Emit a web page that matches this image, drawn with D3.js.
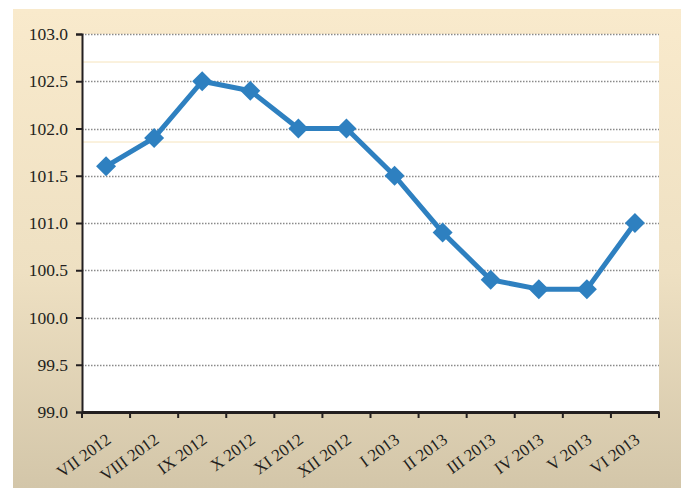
<!DOCTYPE html>
<html><head><meta charset="utf-8">
<script src="https://cdn.jsdelivr.net/npm/d3@7"></script>
<style>body{margin:0;background:#fff}svg{display:block}</style>
</head><body>
<svg id="c" width="681" height="488"></svg>
<script>
const categories = ["VII 2012","VIII 2012","IX 2012","X 2012","XI 2012","XII 2012","I 2013","II 2013","III 2013","IV 2013","V 2013","VI 2013"];
const values = [101.6,101.9,102.5,102.4,102.0,102.0,101.5,100.9,100.4,100.3,100.3,101.0];
const yTicks = [99.0,99.5,100.0,100.5,101.0,101.5,102.0,102.5,103.0];

const svg = d3.select("#c");
const W = 681, H = 488;
const m = {left:82, right:659, top:34, bottom:412};
const serif = "'Liberation Serif', 'Times New Roman', serif";

const defs = svg.append("defs");
const g = defs.append("linearGradient").attr("id","bg").attr("x1",0).attr("y1",0).attr("x2",0).attr("y2",1);
g.append("stop").attr("offset","0%").attr("stop-color","#f9eacc");
g.append("stop").attr("offset","55%").attr("stop-color","#eee0c2");
g.append("stop").attr("offset","100%").attr("stop-color","#d3c6a9");

svg.append("rect").attr("x",13).attr("y",9).attr("width",W-13).attr("height",H-9).attr("fill","url(#bg)");

// clipped red header remnants (title above is cut off in the reference)
const clip = defs.append("clipPath").attr("id","top");
clip.append("rect").attr("x",0).attr("y",0).attr("width",W).attr("height",9);
const hdr = svg.append("g").attr("clip-path","url(#top)");
hdr.append("text").attr("x",66).attr("y",-3).attr("fill","#c8102e").attr("font-family","Liberation Sans").attr("font-style","italic").attr("font-size",16).text("p");
hdr.append("text").attr("x",178).attr("y",-3).attr("fill","#c8102e").attr("font-family","Liberation Sans").attr("font-style","italic").attr("font-size",16).text("y");

svg.append("rect").attr("x",m.left).attr("y",m.top).attr("width",m.right-m.left).attr("height",m.bottom-m.top).attr("fill","#fff");

const x = d3.scaleBand().domain(categories).range([m.left,m.right]);
const y = d3.scaleLinear().domain([99,103]).range([m.bottom,m.top]);

// faint scan lines
[62,142].forEach(py=>{
  svg.append("line").attr("x1",m.left).attr("x2",m.right).attr("y1",py).attr("y2",py).attr("stroke","#f6e4bc").attr("stroke-width",1);
});

// gridlines
svg.append("g").selectAll("line").data(yTicks.filter(d=>d>99)).join("line")
  .attr("x1",m.left).attr("x2",m.right)
  .attr("y1",d=>Math.round(y(d))+0.5).attr("y2",d=>Math.round(y(d))+0.5)
  .attr("stroke","#8a8a8a").attr("stroke-width",1.3).attr("stroke-dasharray","1.5,1.5");

// y axis
const ya = svg.append("g").attr("transform",`translate(${m.left},0)`)
  .call(d3.axisLeft(y).tickValues(yTicks).tickFormat(d3.format(".1f")).tickSize(6).tickPadding(8));
ya.select(".domain").attr("stroke","#231f20").attr("stroke-width",2);
ya.selectAll(".tick line").attr("stroke","#231f20").attr("stroke-width",2);
ya.selectAll("text").style("font-family",serif).style("font-size","17.5px").attr("fill","#231f20");

// x axis
const xa = svg.append("g").attr("transform",`translate(0,${m.bottom})`)
  .call(d3.axisBottom(x).tickSize(0).tickPadding(0));
xa.select(".domain").attr("stroke","#231f20").attr("stroke-width",3);
xa.selectAll(".tick text")
  .style("font-family",serif).style("font-size","17px").attr("fill","#231f20")
  .attr("text-anchor","end").attr("dy",0)
  .attr("transform","translate(6,30) rotate(-36)");
// boundary ticks
const bounds = categories.map(c=>x(c)).concat([m.right]);
xa.append("g").selectAll("line").data(bounds).join("line")
  .attr("x1",d=>d).attr("x2",d=>d).attr("y1",0).attr("y2",6)
  .attr("stroke","#231f20").attr("stroke-width",2);

// line
const cx = c=>x(c)+x.bandwidth()/2;
svg.append("path").datum(values)
  .attr("d",d3.line().x((d,i)=>cx(categories[i])).y(d=>y(d)))
  .attr("fill","none").attr("stroke","#2e80c0").attr("stroke-width",5).attr("stroke-linejoin","round");

svg.append("g").selectAll("path").data(values).join("path")
  .attr("d",d3.symbol(d3.symbolSquare, 200))
  .attr("transform",(d,i)=>`translate(${cx(categories[i])},${y(d)}) rotate(45)`)
  .attr("fill","#2e80c0");
</script>
</body></html>
